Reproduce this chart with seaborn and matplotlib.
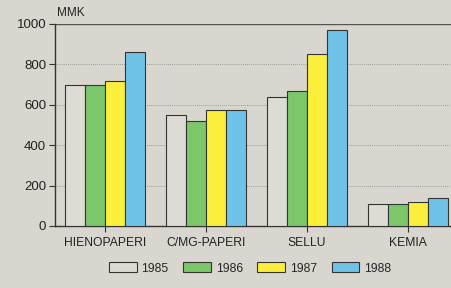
import matplotlib
matplotlib.use("Agg")
import matplotlib.pyplot as plt
import seaborn as sns
import pandas as pd

# data
categories = ["HIENOPAPERI", "C/MG-PAPERI", "SELLU", "KEMIA"]
years = ["1985", "1986", "1987", "1988"]
v1985 = [700, 550, 640, 110]
v1986 = [700, 520, 670, 110]
v1987 = [720, 575, 850, 120]
v1988 = [860, 575, 970, 140]

rows = []
for yr, vals in zip(years, [v1985, v1986, v1987, v1988]):
    for cat, v in zip(categories, vals):
        rows.append({"ala": cat, "vuosi": yr, "MMK": v})
df = pd.DataFrame(rows)

bg = "#d9d6cf"
palette = {"1985": "#dedbd4", "1986": "#7cc76a", "1987": "#fcef3c", "1988": "#6fc3e8"}

sns.set_style("white")
plt.rcParams["font.family"] = ["Liberation Sans", "DejaVu Sans"]

fig = plt.figure(figsize=(4.51, 2.88), dpi=100, facecolor=bg)
ax = fig.add_axes([54.5 / 451, 1 - 226 / 288, 404 / 451, 202 / 288])
ax.set_facecolor(bg)

sns.barplot(data=df, x="ala", y="MMK", hue="vuosi", hue_order=years,
            order=categories, palette=palette, edgecolor="#333333",
            linewidth=0.8, width=0.8, saturation=1, ax=ax, zorder=3)

ax.set_ylim(0, 1000)
ax.set_xlim(-0.5, 3.5)
ax.set_yticks([0, 200, 400, 600, 800, 1000])
for y in [200, 400, 600, 800]:
    ax.axhline(y, color="#888888", linestyle=(0, (1, 1.5)), linewidth=0.6, zorder=1)
ax.axhline(1000, color="#555555", linewidth=1.0, zorder=1)

for s in ["top", "right"]:
    ax.spines[s].set_visible(False)
for s in ["left", "bottom"]:
    ax.spines[s].set_color("#333333")
    ax.spines[s].set_linewidth(1.0)

ax.tick_params(axis="both", direction="out", length=4, width=0.8, colors="#333333",
               labelcolor="#222222", bottom=True, left=True)
ax.tick_params(axis="y", labelsize=9.5, pad=2)
ax.tick_params(axis="x", labelsize=8.7, pad=4)
ax.set_xlabel("")
ax.set_ylabel("")
fig.text(57 / 451, 1 - 13 / 288, "MMK", fontsize=8.5, color="#222222", va="center")

leg = ax.legend(loc="center", bbox_to_anchor=((250 - 54.5) / 404, -0.21),
                ncol=4, frameon=False, fontsize=8.7, handlelength=2.3,
                handleheight=0.9, columnspacing=1.2, handletextpad=0.4)

fig.savefig("out.png", dpi=100, facecolor=bg)
